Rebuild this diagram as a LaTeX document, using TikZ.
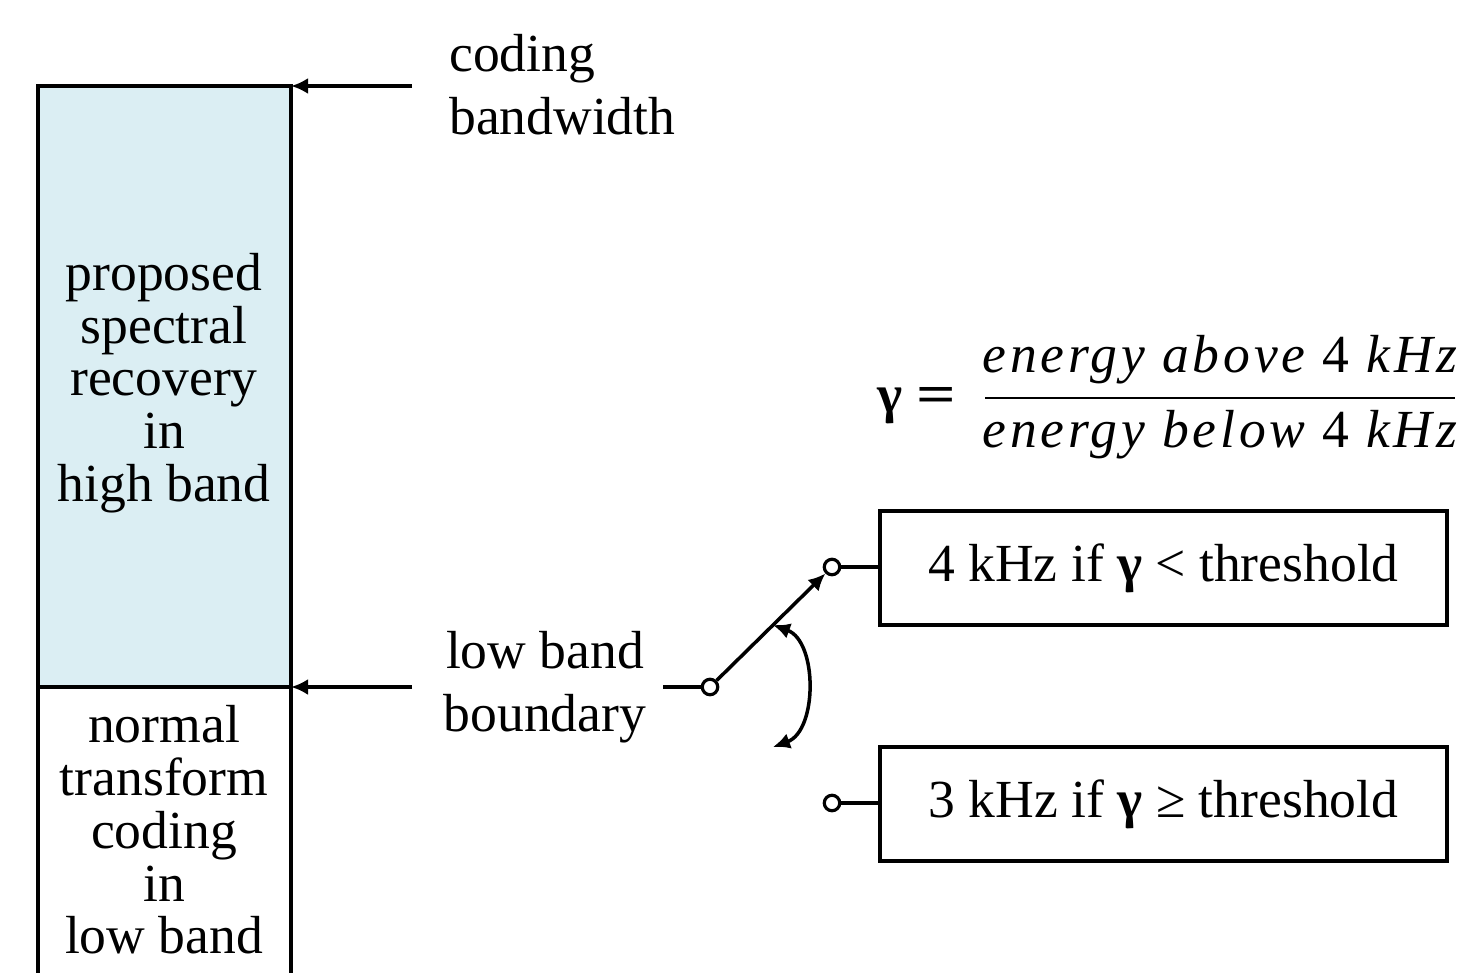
\documentclass[tikz,border=0pt]{standalone}
\usepackage{fontspec}
\setmainfont{Liberation Serif}
\newfontfamily\ratiofont{Liberation Serif}[LetterSpace=7]
\usetikzlibrary{positioning,arrows.meta}
\definecolor{highband}{RGB}{219,238,243}
\tikzset{
  bandline/.style={line width=2pt},
  pointer/.style={-{Latex[length=3.4mm,width=3.2mm]}, line width=2pt},
  swingarrow/.style={{Latex[length=3.4mm,width=3.2mm]}-{Latex[length=3.4mm,width=3.2mm]}, line width=2pt},
  contact/.style={circle, draw, line width=1.8pt, fill=white, inner sep=0pt, minimum size=3.1mm},
  rulebox/.style={draw, line width=2pt, minimum width=11.34cm, minimum height=2.28cm, align=center},
  bandtext/.style={align=center},
  sidelabel/.style={font=\fontsize{30.5}{36}\selectfont},
  ratiotext/.style={font=\fontsize{30.5}{30}\selectfont\ratiofont\itshape, inner sep=0pt}
}

\begin{document}
\begin{tikzpicture}[x=0.02cm, y=-0.02cm, >=Latex, every node/.style={font=\fontsize{30.5}{30}\selectfont}]
  \useasboundingbox (0,0) rectangle (1460,973);
  % the frequency column
  \fill[highband] (38,86) rectangle (291,687);
  \draw[bandline] (38,973) -- (38,86) -- (291,86) -- (291,973);
  \draw[bandline] (38,687) -- (291,687);
  \node[bandtext] (high) at (164,383) {proposed\\spectral\\recovery\\in\\high band};
  \node[bandtext] (low) at (164,830) {normal\\transform\\coding\\in\\low band};

  \coordinate (bwtip) at (291,86);
  \coordinate (bwtail) at (412,86);
  \coordinate (lbtip) at (291,687);
  \coordinate (lbtail) at (412,687);
  \draw[pointer] (bwtail) -- (bwtip);
  \draw[pointer] (lbtail) -- (lbtip);
  \node[sidelabel, align=left, anchor=west] (bwlabel) at (443,85) {coding\\bandwidth};
  \node[sidelabel, align=center] (lblabel) at (545,687) {low band\\boundary};

  % ratio
  \node (gamma) at (917,406) {\textbf{γ} \scalebox{1.3}[1]{\textbf{=}}};
  \node[ratiotext] (above) at (1220,360) {energy above \upshape4 \itshape kHz};
  \node[ratiotext] (below) at (1220,435) {energy below \upshape4 \itshape kHz};
  \draw[line width=1.6pt] (985,398) -- (1455,398);

  % switch
  \coordinate (swfeed) at (663,687);
  \node[contact] (pivot) at (710,687) {};
  \node[contact] (upper) at (832,567) {};
  \node[contact] (lower) at (832,803) {};
  \node[rulebox] (fourk) at (1163.5,568) {4 kHz if \textbf{γ} < threshold};
  \node[rulebox] (threek) at (1163.5,804) {3 kHz if \textbf{γ} ≥ threshold};
  \draw[bandline] (swfeed) -- (pivot);
  \draw[pointer] (pivot) -- (upper);
  \draw[bandline] (upper) -- (upper -| fourk.west);
  \draw[bandline] (lower) -- (lower -| threek.west);
  \coordinate (swingtop) at (773,625);
  \coordinate (swingend) at (773,747);
  \draw[swingarrow] (swingtop) to[bend left=70] (swingend);
\end{tikzpicture}
\end{document}
